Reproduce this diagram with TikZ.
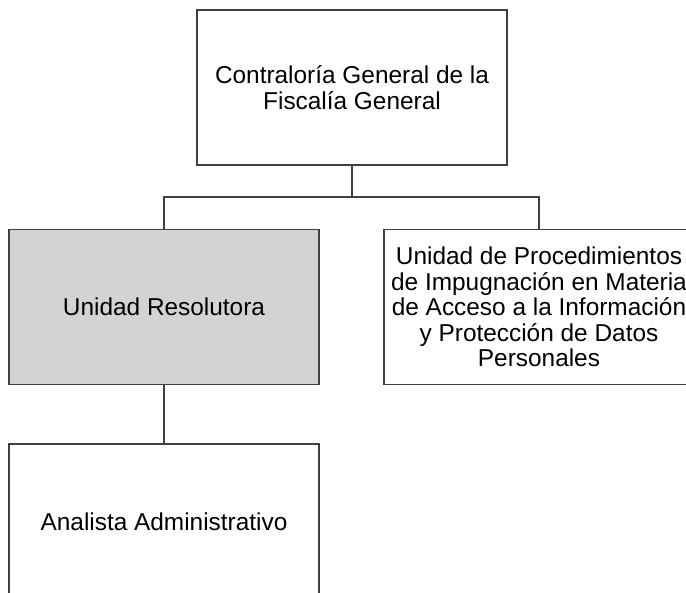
\documentclass[tikz,border=0pt]{standalone}
\usepackage{fontspec}
\setmainfont{Liberation Sans}
\usepackage{xcolor}
\definecolor{boxline}{HTML}{404040}
\definecolor{boxgray}{HTML}{D3D3D3}

\begin{document}
\begin{tikzpicture}[x = 1pt, y = -1pt,
    unit/.style = {draw = boxline, line width = 1.2pt, fill = white, rectangle,
        minimum width = 310pt, minimum height = 155pt, align = center,
        inner sep = 0pt, font = \fontsize{24.4}{25.5}\selectfont}]
        \useasboundingbox (0, 0) rectangle (686, 593);
        \clip (0, 0) rectangle (686, 593);

        % Nodes
        \node [unit] (contra) at (352, 87.5) {Contraloría General de la\\Fiscalía General};
        \node [unit, fill = boxgray] (resol) at (164, 307) {Unidad Resolutora};
        \node [unit] (proc) at (539, 307) {Unidad de Procedimientos\\de Impugnación en Materia\\de Acceso a la Información\\y Protección de Datos\\Personales};
        \node [unit] (analista) at (164, 521.5) {Analista Administrativo};
        \coordinate (bus) at (352, 197);

        % Lines
        \draw [boxline, line width = 1.2pt] (contra.south) -- (bus);
        \draw [boxline, line width = 1.2pt] (resol.north) |- (bus) -| (proc.north);
        \draw [boxline, line width = 1.2pt] (resol.south) -- (analista.north);

    \end{tikzpicture}
\end{document}
